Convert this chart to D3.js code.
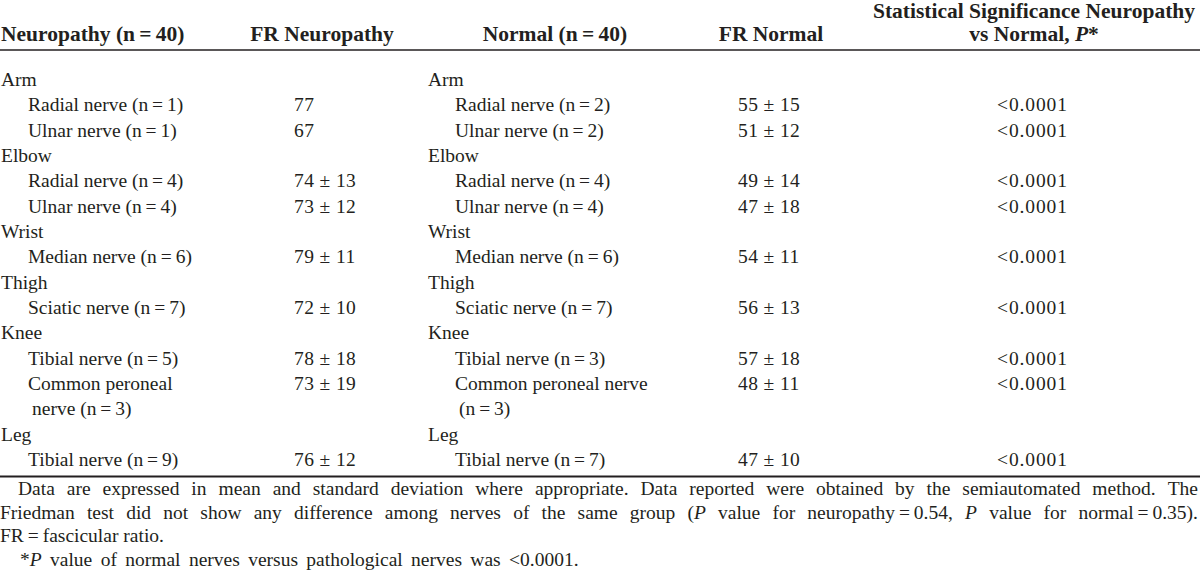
<!DOCTYPE html>
<html><head><meta charset="utf-8">
<script src="https://cdn.jsdelivr.net/npm/d3@7"></script>
<style>
html,body{margin:0;padding:0;background:#fff;}
svg{display:block;font-family:"Liberation Serif","Times New Roman",Times,serif;}
</style></head><body>
<svg id="chart" width="1200" height="575"></svg>
<script>
// ---------------- data ----------------
const headerLabels = ["Neuropathy (n\u2009=\u200940)", "FR Neuropathy", "Normal (n\u2009=\u200940)", "FR Normal"];
const headerLast = ["Statistical Significance Neuropathy", "vs Normal, {P}*"];

const neuropathyCol = ["Arm", "Radial nerve (n\u2009=\u20091)", "Ulnar nerve (n\u2009=\u20091)", "Elbow",
  "Radial nerve (n\u2009=\u20094)", "Ulnar nerve (n\u2009=\u20094)", "Wrist", "Median nerve (n\u2009=\u20096)",
  "Thigh", "Sciatic nerve (n\u2009=\u20097)", "Knee", "Tibial nerve (n\u2009=\u20095)", "Common peroneal",
  "nerve (n\u2009=\u20093)", "Leg", "Tibial nerve (n\u2009=\u20099)"];
const frNeuropathy = ["", "77", "67", "", "74 ± 13", "73 ± 12", "", "79 ± 11", "",
  "72 ± 10", "", "78 ± 18", "73 ± 19", "", "", "76 ± 12"];
const normalCol = ["Arm", "Radial nerve (n\u2009=\u20092)", "Ulnar nerve (n\u2009=\u20092)", "Elbow",
  "Radial nerve (n\u2009=\u20094)", "Ulnar nerve (n\u2009=\u20094)", "Wrist", "Median nerve (n\u2009=\u20096)",
  "Thigh", "Sciatic nerve (n\u2009=\u20097)", "Knee", "Tibial nerve (n\u2009=\u20093)", "Common peroneal nerve",
  "(n\u2009=\u20093)", "Leg", "Tibial nerve (n\u2009=\u20097)"];
const frNormal = ["", "55 ± 15", "51 ± 12", "", "49 ± 14", "47 ± 18", "",
  "54 ± 11", "", "56 ± 13", "", "57 ± 18", "48 ± 11", "", "", "47 ± 10"];
const pValues = ["", "<0.0001", "<0.0001", "", "<0.0001", "<0.0001", "", "<0.0001", "", "<0.0001", "",
  "<0.0001", "<0.0001", "", "", "<0.0001"];
const rowLevel = [0, 1, 1, 0, 1, 1, 0, 1, 0, 1, 0, 1, 1, 2, 0, 1];

const footnotes = [
  "Data are expressed in mean and standard deviation where appropriate. Data reported were obtained by the semiautomated method. The",
  "Friedman test did not show any difference among nerves of the same group ({P} value for neuropathy\u2009=\u20090.54, {P} value for normal\u2009=\u20090.35).",
  "FR\u2009=\u2009fascicular ratio.",
  "*{P} value of normal nerves versus pathological nerves was <0.0001."
];
const footJustify = [true, true, false, false];
const footIndent = [18, 0, 0, 20];
const footWordSpacing = [0, 0, 0, 3.5];

// ---------------- layout ----------------
const W = 1200, H = 575;
const ink = "#231f20";
const svg = d3.select("#chart");
svg.append("rect").attr("width", W).attr("height", H).attr("fill", "#fff");

const bodySize = 19.5, headSize = 21.5, footSize = 19.5;
const y = d3.scalePoint().domain(d3.range(neuropathyCol.length)).range([86, 466]);
const indent = [0, 27, 31];

function addRich(sel, str) {
  const parts = str.split(/(\{[^}]*\})/).filter(s => s.length);
  parts.forEach(p => {
    if (p.startsWith("{")) sel.append("tspan").attr("font-style", "italic").text(p.slice(1, -1));
    else sel.append("tspan").text(p);
  });
  return sel;
}

// header
const head = svg.append("g").attr("fill", ink).attr("font-weight", "bold").attr("font-size", headSize);
const headPos = [{x: 1, a: "start"}, {x: 322, a: "middle"}, {x: 555, a: "middle"}, {x: 771, a: "middle"}];
head.selectAll("text.h").data(headerLabels).join("text").attr("class", "h")
  .attr("x", (d, i) => headPos[i].x).attr("y", 41).attr("text-anchor", (d, i) => headPos[i].a).text(d => d);
head.selectAll("text.h2").data(headerLast).join("text").attr("class", "h2")
  .attr("x", 1034).attr("y", (d, i) => 18 + i * 23).attr("text-anchor", "middle")
  .each(function(d) { addRich(d3.select(this), d); });

// rules
svg.append("line").attr("x1", 0).attr("x2", W).attr("y1", 50).attr("y2", 50).attr("stroke", ink).attr("stroke-width", 1.5);
svg.append("line").attr("x1", 0).attr("x2", W).attr("y1", 476.5).attr("y2", 476.5).attr("stroke", ink).attr("stroke-width", 1.8);

// body
const body = svg.append("g").attr("fill", ink).attr("font-size", bodySize);
function column(data, x0, useIndent, ls) {
  body.append("g").attr("letter-spacing", ls).selectAll("text").data(data).join("text")
    .attr("x", (d, i) => x0 + (useIndent ? indent[rowLevel[i]] : 0))
    .attr("y", (d, i) => y(i))
    .text(d => d);
}
column(neuropathyCol, 1, true, 0);
column(frNeuropathy, 294, false, 0.4);
column(normalCol, 428, true, 0);
column(frNormal, 738, false, 0.4);
column(pValues, 997, false, 0.9);

// footnotes (justified)
const foot = svg.append("g").attr("fill", ink).attr("font-size", footSize);
const fy = d3.scalePoint().domain(d3.range(footnotes.length)).range([495, 566]);
footnotes.forEach((line, li) => {
  const g = foot.append("g");
  const x0 = footIndent[li], x1 = 1198;
  if (!footJustify[li]) {
    addRich(g.append("text").attr("x", x0).attr("y", fy(li)).attr("word-spacing", footWordSpacing[li]), line);
    return;
  }
  const words = line.split(" ");
  const nodes = words.map(w => addRich(g.append("text").attr("y", fy(li)), w));
  const widths = nodes.map(n => n.node().getComputedTextLength());
  const gap = (x1 - x0 - d3.sum(widths)) / (words.length - 1);
  let x = x0;
  nodes.forEach((n, i) => { n.attr("x", x); x += widths[i] + gap; });
});
</script>
</body></html>
